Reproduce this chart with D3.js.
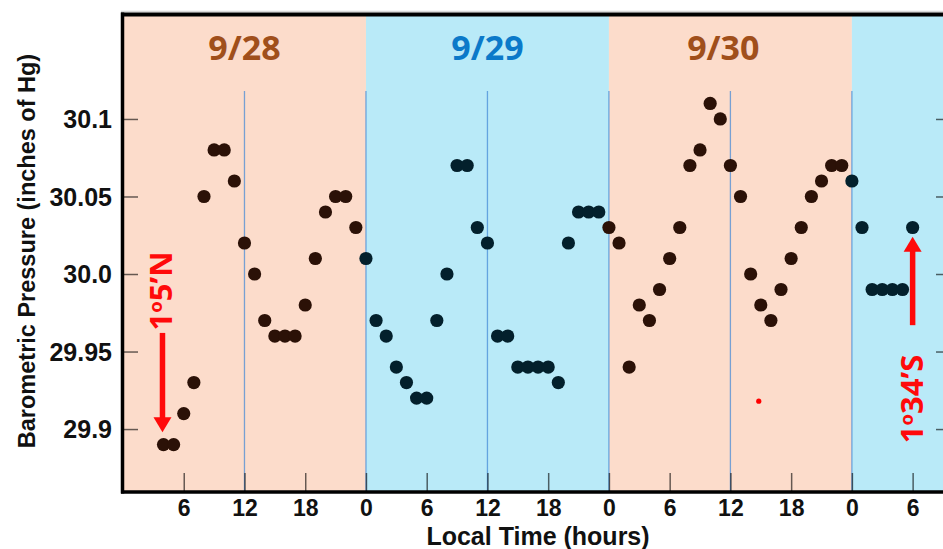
<!DOCTYPE html>
<html>
<head>
<meta charset="utf-8">
<script src="https://cdn.jsdelivr.net/npm/d3@7"></script>
<style>
  html, body { margin: 0; padding: 0; background: #fff; }
  svg { display: block; }
</style>
</head>
<body>
<svg id="chart" width="943" height="549"></svg>
<script>
// ---- data ----
const hours = [4,5,6,7,8,9,10,11,12,13,14,15,16,17,18,19,20,21,22,23,
  24,25,26,27,28,29,30,31,32,33,34,35,36,37,38,39,40,41,42,43,44,45,46,47,
  48,49,50,51,52,53,54,55,56,57,58,59,60,61,62,63,64,65,66,67,68,69,70,71,
  72,73,74,75,76,77,78];
const pressure = [29.89,29.89,29.91,29.93,30.05,30.08,30.08,30.06,30.02,30.00,29.97,29.96,29.96,29.96,29.98,30.01,30.04,30.05,30.05,30.03,
  30.01,29.97,29.96,29.94,29.93,29.92,29.92,29.97,30.00,30.07,30.07,30.03,30.02,29.96,29.96,29.94,29.94,29.94,29.94,29.93,30.02,30.04,30.04,30.04,
  30.03,30.02,29.94,29.98,29.97,29.99,30.01,30.03,30.07,30.08,30.11,30.10,30.07,30.05,30.00,29.98,29.97,29.99,30.01,30.03,30.05,30.06,30.07,30.07,
  30.06,30.03,29.99,29.99,29.99,29.99,30.03];
const dayLabels = ["9/28", "9/29", "9/30"];
const dayLabelHours = [12, 36, 59.3];
const dayStarts = [0, 24, 48, 72];
const dayEnds = [24, 48, 72, 81];
const dividerHours = [12, 24, 36, 48, 60, 72];
const xTickHours = [6,12,18,24,30,36,42,48,54,60,66,72,78];
const xTickLabels = ["6","12","18","0","6","12","18","0","6","12","18","0","6"];
const yTickValues = [29.9, 29.95, 30.0, 30.05, 30.1];
const yTickLabels = ["29.9","29.95","30.0","30.05","30.1"];
const startNote = {hour: 3.9, label: ["1", "o", "5’N"], from: 29.962, to: 29.898};
const endNote = {hour: 78, label: ["1", "o", "34’S"], from: 29.967, to: 30.024};
const strayDot = {hour: 62.8, value: 29.918};

// ---- layout ----
const W = 943, H = 549;
const mLeft = 123, mRight = 943, mTop = 14, mBottom = 492;
const svg = d3.select("#chart");

const x = d3.scaleLinear().domain([0, 81]).range([mLeft, mRight]);
const y = d3.scaleLinear().domain([29.8594, 30.1677]).range([mBottom, mTop]);

const salmon = "#fcdccb", sky = "#b9eaf8";
const brown = "#2b1107", navy = "#03202c";
const bandColors = [salmon, sky, salmon, sky];

// bands
svg.append("g").selectAll("rect").data(dayStarts).join("rect")
  .attr("x", (d) => x(d))
  .attr("y", mTop)
  .attr("width", (d, i) => x(dayEnds[i]) - x(d))
  .attr("height", mBottom - mTop)
  .attr("fill", (d, i) => bandColors[i]);

// divider lines
svg.append("g").selectAll("line").data(dividerHours).join("line")
  .attr("x1", (d) => x(d)).attr("x2", (d) => x(d))
  .attr("y1", 91).attr("y2", mBottom)
  .attr("stroke", "#3f86d6").attr("stroke-opacity", 0.7).attr("stroke-width", 1.3);

// day labels
svg.append("g").selectAll("text").data(dayLabels).join("text")
  .attr("x", (d, i) => x(dayLabelHours[i]))
  .attr("y", 60)
  .attr("text-anchor", "middle")
  .attr("font-family", "'Open Sans', 'Noto Sans', sans-serif")
  .attr("font-weight", "bold")
  .attr("font-size", 34)
  .attr("fill", (d, i) => i === 1 ? "#0b79c9" : "#a04f1b")
  .text((d) => d);

// x axis ticks
const xAxis = d3.axisBottom(x).tickValues(xTickHours)
  .tickFormat((d, i) => xTickLabels[i]).tickSizeInner(-19).tickSizeOuter(0).tickPadding(8);
const gx = svg.append("g").attr("transform", `translate(0,${mBottom})`).call(xAxis);
gx.select(".domain").remove();
gx.selectAll(".tick line").attr("stroke", "#000").attr("stroke-opacity", 0.6).attr("stroke-width", 1.5);
gx.selectAll(".tick text")
  .attr("font-family", "'Liberation Sans', Arial, sans-serif")
  .attr("font-weight", "bold").attr("font-size", 23).attr("fill", "#111");

// y axis ticks (left)
const yAxis = d3.axisLeft(y).tickValues(yTickValues)
  .tickFormat((d, i) => yTickLabels[i]).tickSizeInner(-15).tickSizeOuter(0).tickPadding(11);
const gy = svg.append("g").attr("transform", `translate(${mLeft},0)`).call(yAxis);
gy.select(".domain").remove();
gy.selectAll(".tick line").attr("stroke", "#000").attr("stroke-opacity", 0.6).attr("stroke-width", 1.5);
gy.selectAll(".tick text")
  .attr("font-family", "'Liberation Sans', Arial, sans-serif")
  .attr("font-weight", "bold").attr("font-size", 25).attr("fill", "#111")
  .attr("dy", "0.35em");

// y axis ticks (right)
const yAxisR = d3.axisRight(y).tickValues(yTickValues).tickFormat("").tickSizeInner(-8).tickSizeOuter(0);
const gyr = svg.append("g").attr("transform", `translate(${mRight + 1},0)`).call(yAxisR);
gyr.select(".domain").remove();
gyr.selectAll(".tick line").attr("stroke", "#000").attr("stroke-opacity", 0.6).attr("stroke-width", 1.5);

// frame
svg.append("line").attr("x1", mLeft - 2).attr("x2", mRight).attr("y1", 11.5).attr("y2", 11.5)
  .attr("stroke", "#d8d8d8").attr("stroke-width", 1.5);
svg.append("line").attr("x1", mLeft - 2).attr("x2", mRight).attr("y1", mTop + 0.5).attr("y2", mTop + 0.5)
  .attr("stroke", "#000").attr("stroke-width", 4);
svg.append("line").attr("x1", mLeft - 0.5).attr("x2", mLeft - 0.5).attr("y1", mTop - 1.5).attr("y2", mBottom + 1.5)
  .attr("stroke", "#000").attr("stroke-width", 3.5);
svg.append("line").attr("x1", mLeft - 2).attr("x2", mRight).attr("y1", mBottom).attr("y2", mBottom)
  .attr("stroke", "#000").attr("stroke-width", 3.5);

// points
const pts = hours.map((h, i) => ({h, v: pressure[i]}));
svg.append("g").selectAll("circle").data(pts).join("circle")
  .attr("cx", (d) => x(d.h))
  .attr("cy", (d) => y(d.v))
  .attr("r", 6.6)
  .attr("fill", (d) => (d.h < 24 || (d.h >= 48 && d.h < 72)) ? brown : navy);

// stray red dot
svg.append("circle").attr("cx", x(strayDot.hour)).attr("cy", y(strayDot.value)).attr("r", 2.6).attr("fill", "#ff0000");

// red annotations
const red = "#ff0a0a";
function arrow(note, pointsDown) {
  const ax = x(note.hour);
  const y0 = y(note.from), y1 = y(note.to);
  const headLen = 15, headW = 9;
  const dir = pointsDown ? 1 : -1;
  svg.append("line").attr("x1", ax).attr("x2", ax)
    .attr("y1", y0).attr("y2", y1 - dir * headLen + dir * 1)
    .attr("stroke", red).attr("stroke-width", 5.5);
  svg.append("path")
    .attr("d", `M${ax - headW},${y1 - dir * headLen} L${ax + headW},${y1 - dir * headLen} L${ax},${y1} Z`)
    .attr("fill", red);
}
arrow(startNote, true);
arrow(endNote, false);

function rotLabel(cx, cy, parts, size) {
  const t = svg.append("text")
    .attr("transform", `translate(${cx},${cy}) rotate(-90)`)
    .attr("text-anchor", "middle")
    .attr("font-family", "'Open Sans', 'Noto Sans', sans-serif")
    .attr("font-weight", "bold")
    .attr("font-size", size)
    .attr("fill", red);
  t.append("tspan").text(parts[0]);
  t.append("tspan").attr("font-size", size * 0.6).attr("dy", -size * 0.33).text(parts[1]);
  t.append("tspan").attr("dy", size * 0.33).text(parts[2]);
}
rotLabel(172, 291, startNote.label, 31);
rotLabel(923, 399, endNote.label, 31);

// axis titles
svg.append("text")
  .attr("x", 538).attr("y", 544.5)
  .attr("text-anchor", "middle")
  .attr("font-family", "'Liberation Sans', Arial, sans-serif")
  .attr("font-weight", "bold").attr("font-size", 25).attr("fill", "#111")
  .text("Local Time (hours)");
svg.append("text")
  .attr("transform", `translate(35,251) rotate(-90)`)
  .attr("text-anchor", "middle")
  .attr("font-family", "'Liberation Sans', Arial, sans-serif")
  .attr("font-weight", "bold").attr("font-size", 23.5).attr("fill", "#111")
  .text("Barometric Pressure (inches of Hg)");
</script>
</body>
</html>
